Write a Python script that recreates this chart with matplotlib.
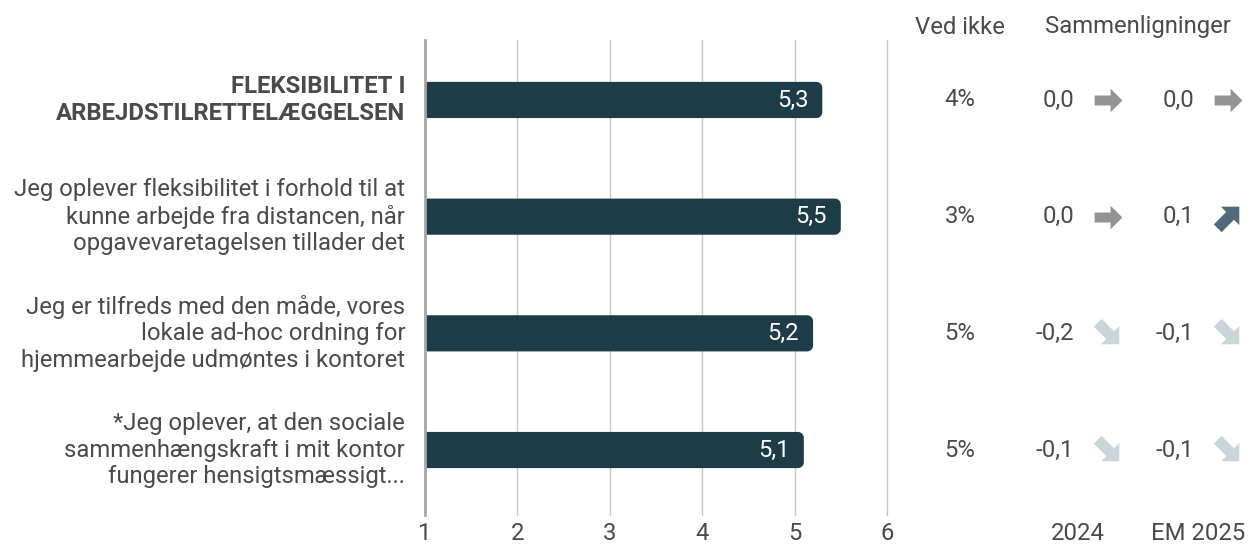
import matplotlib
matplotlib.use("Agg")
import numpy as np
import matplotlib.pyplot as plt
from matplotlib.patches import Polygon
from matplotlib.path import Path
from matplotlib.markers import MarkerStyle
from matplotlib.transforms import Affine2D

plt.rcParams['font.family'] = ['Roboto', 'DejaVu Sans']

labels = [
    "FLEKSIBILITET I\nARBEJDSTILRETTELÆGGELSEN",
    "Jeg oplever fleksibilitet i forhold til at\nkunne arbejde fra distancen, når\nopgavevaretagelsen tillader det",
    "Jeg er tilfreds med den måde, vores\nlokale ad-hoc ordning for\nhjemmearbejde udmøntes i kontoret",
    "*Jeg oplever, at den sociale\nsammenhængskraft i mit kontor\nfungerer hensigtsmæssigt...",
]
bold = [True, False, False, False]
values = [5.3, 5.5, 5.2, 5.1]
ved_ikke = ["4%", "3%", "5%", "5%"]
diff_2024 = [0.0, 0.0, -0.2, -0.1]
diff_em2025 = [0.0, 0.1, -0.1, -0.1]
ticks = [1, 2, 3, 4, 5, 6]

BAR = "#1e3c48"
TXT = "#4a4a4a"
FS = 17.2
W, H = 1248, 545

fig = plt.figure(figsize=(W / 100, H / 100), dpi=100)
ylim = (3.557, -0.514)
ax = fig.add_axes([425 / W, 1 - 515 / H, 462 / W, 475 / H])
ax.set_xlim(1, 6)
ax.set_ylim(*ylim)
for s in ["top", "right", "bottom", "left"]:
    ax.spines[s].set_visible(False)
ax.set_yticks([])
ax.set_xticks(ticks)
ax.tick_params(axis="x", length=0, labelsize=FS, labelcolor=TXT, pad=5)
for t in ticks[1:]:
    ax.axvline(t, color="#c8c8c8", lw=1, zorder=0, clip_on=False)
ax.axvline(1, color="#a6a6a6", lw=2, zorder=3, clip_on=False)

# bar with rounded right end (radius ~6 px)
bh = 0.31
px_x = 5 / 462
px_y = abs(ylim[0] - ylim[1]) / 475
rx, ry = 6 * px_x, 6 * px_y


def rounded_bar(x0, x1, yc):
    top, bot = yc - bh / 2, yc + bh / 2
    a = np.linspace(0, np.pi / 2, 10)
    pts = [(x0, top), (x1 - rx, top)]
    pts += list(zip(x1 - rx + rx * np.sin(a), top + ry - ry * np.cos(a)))
    pts += list(zip(x1 - rx + rx * np.cos(a), bot - ry + ry * np.sin(a)))
    pts += [(x1 - rx, bot), (x0, bot)]
    return Polygon(pts, closed=True, fc=BAR, ec="none", zorder=2)


for i, v in enumerate(values):
    ax.add_patch(rounded_bar(1, v, i))
    ax.text(v - 0.15, i, f"{v:.1f}".replace(".", ","), color="white",
            ha="right", va="center", fontsize=FS, zorder=4)
    ax.text(-0.043, i, labels[i], transform=ax.get_yaxis_transform(),
            ha="right", va="center", fontsize=FS, color=TXT,
            fontweight="bold" if bold[i] else "normal", linespacing=1.2)

# right side columns in pixel x-coordinates
rax = fig.add_axes([887 / W, 1 - 515 / H, (W - 887) / W, 475 / H])
rax.set_xlim(887, W)
rax.set_ylim(*ylim)
rax.axis("off")

shape = Path([(-1, -0.36), (0.15, -0.36), (0.15, -0.85), (1, 0), (0.15, 0.85),
              (0.15, 0.36), (-1, 0.36), (-1, -0.36)],
             [Path.MOVETO] + [Path.LINETO] * 6 + [Path.CLOSEPOLY])


def arrow(x, y, d):
    if d > 0:
        ang, col = 45, "#4f6a7a"
    elif d < 0:
        ang, col = -45, "#c8d6dc"
    else:
        ang, col = 0, "#939393"
    m = MarkerStyle(shape, transform=Affine2D().rotate_deg(ang))
    rax.plot([x], [y], marker=m, ms=20 if ang == 0 else 22, color=col, mec="none",
             ls="none", clip_on=False)


fig.text(960 / W, 1 - 27 / H, "Ved ikke", ha="center", va="center", fontsize=FS, color=TXT)
fig.text(1138 / W, 1 - 27 / H, "Sammenligninger", ha="center", va="center", fontsize=FS, color=TXT)
fig.text(1078 / W, 1 - 533 / H, "2024", ha="center", va="center", fontsize=FS, color=TXT)
fig.text(1198 / W, 1 - 533 / H, "EM 2025", ha="center", va="center", fontsize=FS, color=TXT)

for i in range(len(values)):
    rax.text(960, i, ved_ikke[i], ha="center", va="center", fontsize=FS, color=TXT)
    for xr, xa, d in [(1074, 1108, diff_2024[i]), (1194, 1228, diff_em2025[i])]:
        rax.text(xr, i, f"{d:.1f}".replace(".", ","), ha="right", va="center",
                 fontsize=FS, color=TXT)
        arrow(xa, i, d)

fig.savefig("out.png", dpi=100)
